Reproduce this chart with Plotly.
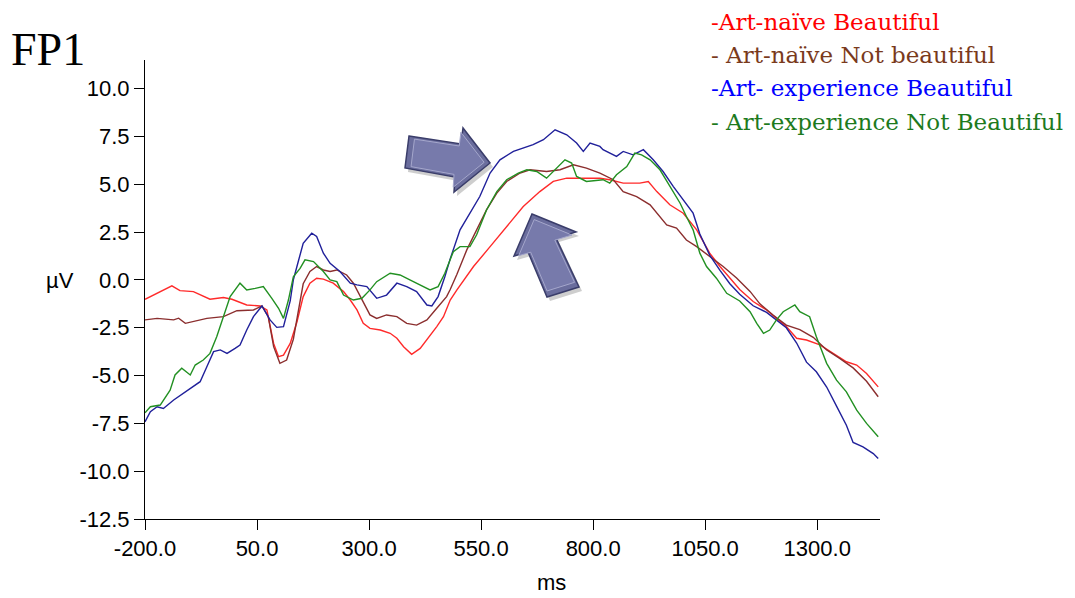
import plotly.graph_objects as go

# ---- data (time in ms, amplitude in µV) ----
t_naive_beau = [-200,-140,-122,-92,-55,-25,-6,27,57,72,87,98,109,124,139,153,168,183,198,220,
                243,258,273,287,302,325,347,362,377,395,414,429,451,466,481,496,533,570,607,644,
                681,711,741,771,815,837,867,904,923,942,971,1001,1031,1060,1083,1105,1127,1157,1187,1209,
                1231,1254,1276,1306,1335,1365,1388,1410,1436]
v_naive_beau = [-1.01,-0.31,-0.56,-0.61,-1.01,-0.92,-1.01,-1.31,-1.36,-1.57,-3.32,-4.01,-3.93,-3.32,-2.2,-0.87,-0.17,0.09,0.04,-0.17,
                -0.61,-1.05,-1.57,-2.27,-2.53,-2.62,-2.79,-3.05,-3.49,-3.89,-3.58,-3.14,-2.44,-1.92,-1.05,-0.52,0.70,1.74,2.79,3.84,
                4.62,5.15,5.32,5.32,5.32,5.24,5.06,5.06,5.15,4.62,3.93,3.49,2.62,1.40,0.70,0.1,-0.5,-1.13,-1.57,-2.01,
                -2.44,-3.05,-3.14,-3.40,-3.84,-4.28,-4.45,-4.89,-5.59]

t_naive_not = [-200,-173,-136,-125,-110,-92,-62,-25,5,42,61,75,87,101,116,131,139,153,168,183,
               198,213,228,250,265,280,302,317,339,362,384,406,429,451,473,481,496,518,540,562,
               585,607,637,659,696,726,756,785,815,845,867,897,927,949,964,986,1008,1031,1060,1090,
               1120,1150,1172,1202,1231,1261,1291,1321,1350,1380,1410,1436]
v_naive_not = [-2.09,-2.01,-2.09,-2.0,-2.27,-2.18,-2.01,-1.92,-1.61,-1.57,-1.36,-1.92,-3.49,-4.36,-4.19,-3.1,-2.0,-0.2,0.44,0.70,
               0.52,0.44,0.52,0.26,-0.17,-0.87,-1.83,-2.01,-1.83,-1.92,-2.27,-2.36,-2.09,-1.48,-0.87,-0.5,0.3,1.57,2.62,3.66,
               4.54,5.15,5.59,5.76,5.67,5.76,6.02,5.85,5.59,5.24,4.62,4.36,3.93,3.32,2.88,2.71,2.09,1.74,1.22,0.70,
               0.10,-0.6,-1.25,-1.85,-2.36,-2.6,-3.0,-3.66,-4.10,-4.6,-5.3,-6.11]

t_exp_beau = [-200,-188,-173,-159,-136,-114,-92,-77,-62,-47,-32,-17,1,12,27,42,61,79,94,109,
              124,131,139,153,172,183,198,213,235,258,273,295,317,339,362,384,406,429,440,454,
              469,481,503,525,547,570,592,622,644,666,689,715,741,763,778,793,815,822,852,867,
              889,912,934,956,979,1001,1023,1038,1060,1083,1105,1127,1157,1187,1209,1231,1254,1276,1298,1321,
              1343,1365,1380,1402,1425,1436]
v_exp_beau = [-7.42,-6.89,-6.63,-6.72,-6.28,-5.93,-5.59,-5.32,-4.54,-3.75,-3.66,-3.84,-3.58,-3.40,-2.62,-1.92,-1.36,-2.09,-2.48,-2.44,
              -1.1,0.0,0.70,1.92,2.44,2.27,1.40,0.87,0.44,-0.17,-0.26,-0.35,-0.96,-0.79,-0.17,-0.35,-0.61,-1.31,-1.36,-0.87,
              0.17,1.1,2.62,3.49,4.36,5.59,6.28,6.72,6.89,7.07,7.33,7.85,7.59,7.16,6.72,7.16,6.98,6.81,6.46,6.72,
              6.54,6.81,6.28,5.67,4.88,4.19,3.49,2.4,1.3,0.5,-0.2,-0.75,-1.35,-1.7,-2.1,-2.5,-3.3,-4.3,-4.8,-5.6,
              -6.6,-7.6,-8.5,-8.73,-9.08,-9.34]

t_exp_not = [-200,-188,-166,-144,-133,-118,-99,-88,-70,-55,-40,-25,-10,12,27,46,64,83,98,109,
             120,131,146,157,176,198,213,228,243,265,284,302,317,347,369,391,414,436,454,469,
             488,503,525,540,562,585,607,633,652,674,696,715,737,752,763,785,822,837,852,875,
             893,908,927,949,971,994,1008,1023,1038,1053,1075,1098,1127,1150,1165,1180,1194,1209,1224,1250,
             1261,1283,1298,1321,1343,1365,1388,1410,1436]
v_exp_not = [-6.95,-6.63,-6.54,-5.76,-4.97,-4.62,-4.97,-4.45,-4.19,-3.84,-2.97,-1.92,-0.87,-0.17,-0.52,-0.44,-0.35,-0.96,-1.48,-2.01,
             -1.05,0.17,0.6,1.05,0.96,0.44,0.0,-0.09,-0.79,-1.05,-0.96,-0.52,-0.09,0.35,0.26,0.0,-0.26,-0.52,-0.35,0.35,
             1.48,1.74,1.74,2.36,3.66,4.62,5.24,5.59,5.76,5.67,5.32,5.76,6.28,6.11,5.41,5.15,5.24,5.06,5.50,5.93,
             6.63,6.54,6.28,5.76,4.88,4.01,3.32,2.62,1.40,0.70,0.09,-0.70,-1.1,-1.66,-2.27,-2.79,-2.62,-2.09,-1.66,-1.31,
             -1.66,-1.92,-2.97,-4.36,-5.24,-5.85,-6.81,-7.50,-8.20]

series_names = ["-Art-naïve Beautiful", "- Art-naïve Not beautiful",
                "-Art- experience Beautiful", "- Art-experience Not Beautiful"]
x_ticks = [-200, 50, 300, 550, 800, 1050, 1300]
y_ticks = [-12.5, -10.0, -7.5, -5.0, -2.5, 0.0, 2.5, 5.0, 7.5, 10.0]

line_colors = ["#ff2a2a", "#8b2e2e", "#20209a", "#229022"]
text_colors = ["#ff0000", "#7a3a1c", "#0000ff", "#1d7a1d"]

# page is rendered with an 8px body margin: size the figure to fit the window
OFF = 8
W, H = 1075 - OFF, 598 - OFF
PL, PR, PT, PB = 145, 880, 60, 519          # plot area in window pixels
L, T = PL - OFF, PT - OFF
R, B = W - (PR - OFF), H - (PB - OFF)
pw, ph = PR - PL, PB - PT

def px(x, y):
    return (x - PL) / pw, (PB - y) / ph

fig = go.Figure()
for tx, vy, col, nm in zip([t_naive_beau, t_naive_not, t_exp_beau, t_exp_not],
                           [v_naive_beau, v_naive_not, v_exp_beau, v_exp_not],
                           line_colors, series_names):
    fig.add_trace(go.Scatter(x=tx, y=vy, mode="lines", name=nm,
                             line=dict(color=col, width=1.4), showlegend=False))

tick_font = dict(family="Liberation Sans Narrow, Arial Narrow, Liberation Sans, Arial", size=22, color="#000")

fig.update_layout(
    width=W, height=H, margin=dict(l=L, r=R, t=T, b=B),
    plot_bgcolor="white", paper_bgcolor="white",
    xaxis=dict(range=[-200, 1440], tickvals=x_ticks, ticktext=[f"{v:.1f}" for v in x_ticks],
               showline=True, linecolor="black", linewidth=1, ticks="outside", ticklen=10,
               tickcolor="black", showgrid=False, zeroline=False, tickfont=tick_font),
    yaxis=dict(range=[-12.5, 11.5], tickvals=y_ticks, ticktext=[f"{v:.1f}" for v in y_ticks],
               showline=True, linecolor="black", linewidth=1, ticks="outside", ticklen=10,
               tickcolor="black", showgrid=False, zeroline=False, tickfont=tick_font),
)

ann = []
ax_, ay_ = px(60, 280)
ann.append(dict(x=ax_, y=ay_, xref="paper", yref="paper", text="µV", showarrow=False,
                font=tick_font, xanchor="center", yanchor="middle"))
ax_, ay_ = px(551, 582)
ann.append(dict(x=ax_, y=ay_, xref="paper", yref="paper", text="ms", showarrow=False,
                font=tick_font, xanchor="center", yanchor="middle"))
ax_, ay_ = px(9, 50)
ann.append(dict(x=ax_, y=ay_, xref="paper", yref="paper", text="FP1", showarrow=False,
                font=dict(family="Liberation Serif, Times New Roman, serif", size=46, color="#000"),
                xanchor="left", yanchor="middle"))
for nm, col, yy in zip(series_names, text_colors, [22, 55, 88, 122]):
    ax_, ay_ = px(709, yy)
    ann.append(dict(x=ax_, y=ay_, xref="paper", yref="paper", text=nm, showarrow=False,
                    font=dict(family="DejaVu Serif, serif", size=23, color=col),
                    xanchor="left", yanchor="middle"))
fig.update_layout(annotations=ann)

def path(pts, dx=0, dy=0):
    s = ""
    for i, (x, y) in enumerate(pts):
        a, b = px(x + dx, y + dy)
        s += ("M" if i == 0 else "L") + f"{a:.5f},{b:.5f} "
    return s + "Z"

def inset(pts, k):
    cx = sum(p[0] for p in pts) / len(pts)
    cy = sum(p[1] for p in pts) / len(pts)
    return [(cx + (x - cx) * k, cy + (y - cy) * k) for x, y in pts]

arrow_right = [(409, 136), (461, 144), (463, 128), (490, 163), (454, 192), (455, 177), (405, 168)]
arrow_up = [(532, 214), (576, 232), (556, 238), (579, 287), (547, 297), (528, 252), (514, 256)]
for pts in (arrow_right, arrow_up):
    fig.add_shape(type="path", path=path(pts, 3, 4), xref="paper", yref="paper",
                  fillcolor="rgba(60,60,60,0.25)", line=dict(width=0))
    fig.add_shape(type="path", path=path(pts), xref="paper", yref="paper",
                  fillcolor="#6a6d9d", line=dict(color="#3a3d6a", width=1.5))
    fig.add_shape(type="path", path=path(inset(pts, 0.86)), xref="paper", yref="paper",
                  fillcolor="#777aab", line=dict(color="#a5a7cc", width=1))

fig.write_html("out.html")
